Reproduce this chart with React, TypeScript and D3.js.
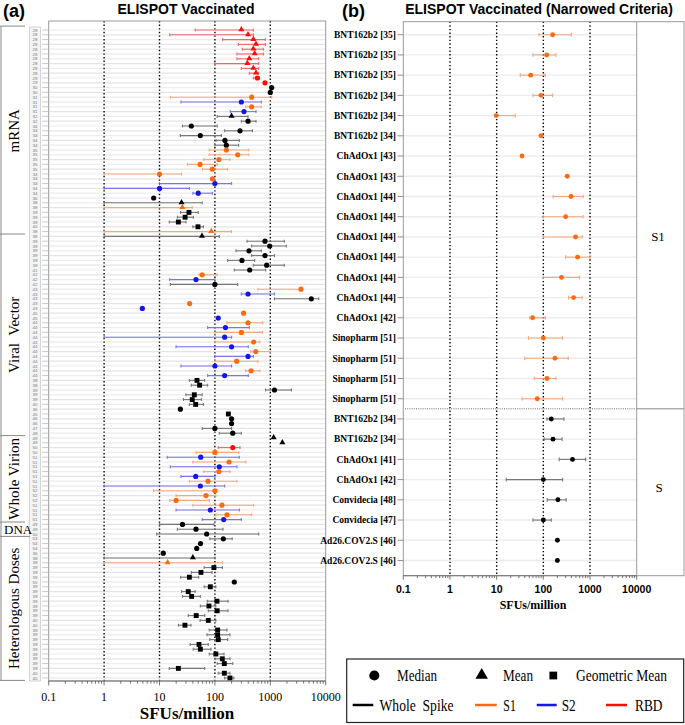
import * as d3 from 'd3';

// [ref, antigen, stat, value, low, high]
type Row = [string, string, string, number, number | null, number | null];

const mrnaRows: Row[] = [
  ['28', 'RBD', 'mean', 300, 44, 493], ['28', 'RBD', 'mean', 396, 15.3, 493], ['28', 'RBD', 'mean', 494, 138, 813],
  ['28', 'RBD', 'mean', 552, 265, 813], ['28', 'RBD', 'mean', 494, 312, 748], ['28', 'RBD', 'mean', 522, 250, 748],
  ['28', 'RBD', 'mean', 418, 250, 617], ['28', 'RBD', 'mean', 385, 99, 617], ['28', 'RBD', 'mean', 494, 300, 617],
  ['28', 'RBD', 'mean', 552, 418, 617], ['29', 'RBD', 'med', 583, 494, 640], ['29', 'RBD', 'med', 802, null, null],
  ['30', 'WS', 'med', 1060, null, null], ['30', 'WS', 'med', 1000, null, null], ['31', 'S1', 'med', 461, 15.7, 1060],
  ['31', 'S2', 'med', 300, 24.4, 688], ['31', 'S1', 'med', 461, 360, 688], ['31', 'S2', 'med', 335, 190, 552],
  ['32', 'WS', 'mean', 200, 110, 396], ['32', 'WS', 'med', 396, 300, 552], ['34', 'WS', 'med', 37.5, 26, 110],
  ['34', 'WS', 'med', 284, 150, 476], ['34', 'WS', 'med', 54.6, 23.8, 131], ['34', 'WS', 'med', 152, 105, 276],
  ['34', 'WS', 'med', 161, 100, 268], ['35', 'S1', 'med', 161, 79, 407], ['35', 'S1', 'med', 258, 79, 407],
  ['35', 'S1', 'med', 118, 63, 187], ['35', 'S1', 'med', 54, 32, 110], ['35', 'S1', 'med', 90, 60, 170],
  ['34', 'S1', 'med', 10, 1, 25], ['34', 'S1', 'med', 90, null, null], ['34', 'S2', 'med', 100, 10, 200],
  ['34', 'S2', 'med', 10, 1, 34.6], ['34', 'S2', 'med', 50, 40, 90], ['36', 'WS', 'med', 7.85, null, null],
  ['38', 'WS', 'mean', 25, 1, 59], ['38', 'S1', 'mean', 25.8, 1, 39], ['39', 'WS', 'gm', 34, 24, 50],
  ['39', 'WS', 'gm', 29, 21, 41], ['39', 'WS', 'gm', 21.9, 15, 30], ['40', 'WS', 'gm', 49.5, 40, 62],
  ['38', 'S1', 'mean', 86, 1, 199],
];

const viralRows: Row[] = [
  ['38', 'WS', 'mean', 58.5, 1, 120], ['39', 'WS', 'med', 802, 380, 1790], ['39', 'WS', 'med', 976, 461, 1950],
  ['39', 'WS', 'med', 413, 240, 688], ['39', 'WS', 'med', 802, 461, 1190], ['39', 'WS', 'med', 308, 170, 522],
  ['39', 'WS', 'med', 860, 494, 1790], ['41', 'WS', 'med', 425, 224, 820], ['42', 'S1', 'med', 59, 52, 110],
  ['42', 'S2', 'med', 45.6, 15.3, 100], ['42', 'WS', 'med', 100, 15.7, 258], ['43', 'S1', 'med', 3580, 600, 3580],
  ['43', 'S2', 'med', 396, 300, 1190], ['43', 'WS', 'med', 5500, 1190, 7480], ['43', 'S1', 'med', 35, null, null],
  ['43', 'S2', 'med', 4.9, null, null], ['45', 'S1', 'med', 330, null, null], ['45', 'S2', 'med', 115, null, null],
  ['44', 'S1', 'med', 396, 165, 728], ['44', 'S2', 'med', 155, 74, 418], ['44', 'S1', 'med', 300, 100, 720],
  ['44', 'S2', 'med', 150, 1, 200], ['44', 'S1', 'med', 501, 100, 647], ['44', 'S2', 'med', 200, 19.9, 400],
  ['44', 'S1', 'med', 545, 442, 1000], ['44', 'S2', 'med', 396, 100, 494], ['44', 'S1', 'med', 247, 100, 600],
  ['44', 'S2', 'med', 100, 24.4, 200], ['44', 'S1', 'med', 449, 358, 647], ['44', 'S2', 'med', 150, 74, 400],
  ['38', 'WS', 'gm', 47.5, 34.6, 65], ['38', 'WS', 'gm', 53, 37.5, 74], ['39', 'WS', 'med', 1190, 820, 2400],
  ['39', 'WS', 'gm', 42.5, 30, 59], ['39', 'WS', 'gm', 39, 27, 57], ['40', 'WS', 'gm', 45, 34.6, 62],
  ['36', 'WS', 'med', 23.8, null, null], ['45', 'WS', 'gm', 175, null, null], ['46', 'WS', 'med', 200, null, null],
  ['46', 'WS', 'med', 200, null, null], ['47', 'WS', 'med', 100, 59, 200], ['48', 'WS', 'med', 210, 120, 300],
];

const virionRows: Row[] = [
  ['49', 'WS', 'mean', 1150, null, null], ['49', 'WS', 'mean', 1650, null, null], ['50', 'RBD', 'med', 210, 115, 284],
  ['50', 'S1', 'med', 100, 46, 268], ['51', 'S2', 'med', 55.5, 13.8, 276], ['51', 'S1', 'med', 180, 40, 362],
  ['51', 'S2', 'med', 120, 15.7, 250], ['51', 'S1', 'med', 118, 63, 187], ['51', 'S2', 'med', 45, 24.4, 100],
  ['51', 'S1', 'med', 75, 34.6, 250], ['51', 'S2', 'med', 54.6, 1, 150], ['52', 'S1', 'med', 100, 7.85, 110],
  ['52', 'S1', 'med', 69, 19.9, 104], ['52', 'S1', 'med', 19.9, 15.3, 79], ['51', 'S1', 'med', 134, 40, 500],
  ['51', 'S2', 'med', 82.7, 19.9, 276], ['51', 'S1', 'med', 165, 104, 461], ['51', 'S2', 'med', 144, 59, 300],
];

const dnaRows: Row[] = [
  ['49', 'WS', 'med', 26, 10, 96], ['49', 'WS', 'med', 45.6, 21, 140], ['50', 'WS', 'med', 71, 8.9, 617],
];

const heteroRows: Row[] = [
  ['53', 'WS', 'med', 142, 81, 205], ['54', 'WS', 'med', 55, null, null], ['54', 'WS', 'med', 47, null, null],
  ['36', 'WS', 'med', 11.7, null, null], ['38', 'WS', 'mean', 40, 1, 100], ['38', 'S1', 'mean', 14, 1, 138],
  ['39', 'WS', 'gm', 96, 64, 137], ['39', 'WS', 'gm', 56, 37.5, 89], ['39', 'WS', 'gm', 34.6, 24, 51],
  ['55', 'WS', 'med', 224, null, null], ['39', 'WS', 'gm', 82.7, 64, 104], ['39', 'WS', 'gm', 33, 25, 44],
  ['39', 'WS', 'gm', 38, 26, 54.6], ['39', 'WS', 'gm', 109, 73, 173], ['39', 'WS', 'gm', 78, 54.6, 104],
  ['39', 'WS', 'gm', 110, 76, 173], ['39', 'WS', 'gm', 46, 33, 65.6], ['40', 'WS', 'gm', 76, 54, 104],
  ['40', 'WS', 'gm', 28.8, 22, 37], ['39', 'WS', 'gm', 112, 79, 165], ['39', 'WS', 'gm', 112, 72, 187],
  ['39', 'WS', 'gm', 115, 81, 170], ['39', 'WS', 'gm', 51.6, 35.8, 76], ['39', 'WS', 'gm', 54.6, 40.7, 85],
  ['39', 'WS', 'gm', 104, 79, 146], ['39', 'WS', 'gm', 136, 100, 187], ['39', 'WS', 'gm', 148, 110, 210],
  ['39', 'WS', 'gm', 21.9, 15, 65.6], ['40', 'WS', 'gm', 148, 115, 187], ['40', 'WS', 'gm', 187, 150, 220],
];

const groupNames = ['mRNA', 'Viral  Vector', 'Whole Virion', 'DNA', 'Heterologous Doses'];
const groups = [mrnaRows, viralRows, virionRows, dnaRows, heteroRows];

// right panel: [label, value, low, high]
type NRow = [string, number, number | null, number | null];
const narrowS1: NRow[] = [
  ['BNT162b2 [35]', 158, 80.5, 398], ['BNT162b2 [35]', 118, 60, 186], ['BNT162b2 [35]', 53.5, 32, 110],
  ['BNT162b2 [34]', 89, 60, 158], ['BNT162b2 [34]', 9.8, 9.8, 25], ['BNT162b2 [34]', 89, null, null],
  ['ChAdOx1 [43]', 35, null, null], ['ChAdOx1 [43]', 325, null, null], ['ChAdOx1 [44]', 390, 162, 716],
  ['ChAdOx1 [44]', 300, 100, 708], ['ChAdOx1 [44]', 490, 100, 677], ['ChAdOx1 [44]', 542, 300, 1000],
  ['ChAdOx1 [44]', 245, 100, 590], ['ChAdOx1 [44]', 445, 347, 677], ['ChAdOx1 [42]', 59, 51, 110],
  ['Sinopharm [51]', 100, 48, 259], ['Sinopharm [51]', 177, 40, 342], ['Sinopharm [51]', 119, 64, 186],
  ['Sinopharm [51]', 74, 35, 259],
];
const narrowS: NRow[] = [
  ['BNT162b2 [34]', 148, 119, 276], ['BNT162b2 [34]', 161, 104, 252], ['ChAdOx1 [41]', 422, 219, 805],
  ['ChAdOx1 [42]', 100, 16, 259], ['Convidecia [48]', 205, 121, 309], ['Convidecia [47]', 100, 60, 148],
  ['Ad26.COV2.S [46]', 200, null, null], ['Ad26.COV2.S [46]', 200, null, null],
];

const majorTicks = [0.1, 1, 10, 100, 1000, 10000];
const gridTicks = [1, 10, 100, 1000];

const markColor: Record<string, string> = { WS: '#000000', S1: '#ff6a10', S2: '#1414f0', RBD: '#ff0a0a' };
const barColor: Record<string, string> = { WS: '#6a6a6a', S1: '#f7a070', S2: '#6a6af2', RBD: '#f05a5a' };

const serif = '"Liberation Serif", "Times New Roman", serif';
const sans = '"Liberation Sans", Arial, sans-serif';

const symbolFor: Record<string, d3.SymbolType> = {
  med: d3.symbolCircle, mean: d3.symbolTriangle, gm: d3.symbolSquare,
};

function Mark({ x, y, stat, color, size }: { x: number; y: number; stat: string; color: string; size: number }) {
  const d = d3.symbol(symbolFor[stat], stat === 'mean' ? size * 0.75 : size)();
  return <path d={d || ''} transform={`translate(${x},${stat === 'mean' ? y - 0.4 : y})`} fill={color} />;
}

function ErrorBar({ x1, x2, y, color, cap }: { x1: number; x2: number; y: number; color: string; cap: number }) {
  return (
    <g stroke={color} strokeWidth={1.1} opacity={0.9}>
      <line x1={x1} x2={x2} y1={y} y2={y} />
      <line x1={x1} x2={x1} y1={y - cap} y2={y + cap} />
      <line x1={x2} x2={x2} y1={y - cap} y2={y + cap} />
    </g>
  );
}

function LogAxis({ x, y0, size, font, weight, family }: {
  x: d3.ScaleLogarithmic<number, number>; y0: number; size: number; font: number; weight: string; family: string;
}) {
  const ticks = x.ticks();
  return (
    <g>
      <line x1={x.range()[0]} x2={x.range()[1]} y1={y0} y2={y0} stroke="#777" strokeWidth={1} />
      {ticks.map((t, i) => {
        const major = Math.abs(Math.log10(t) - Math.round(Math.log10(t))) < 1e-6;
        return <line key={i} x1={x(t)} x2={x(t)} y1={y0} y2={y0 + (major ? size : size * 0.6)} stroke="#555" strokeWidth={0.8} />;
      })}
      {majorTicks.map(t => (
        <text key={t} x={x(t)} y={y0 + size + font + 3} textAnchor="middle" fontSize={font} fontWeight={weight} fontFamily={family}>
          {String(t)}
        </text>
      ))}
    </g>
  );
}

function LegendText({ x, y, len, children }: { x: number; y: number; len: number; children: string }) {
  return (
    <text x={x} y={y} fontSize={16} fontFamily={serif} textLength={len} lengthAdjust="spacingAndGlyphs"
      style={{ whiteSpace: 'pre' }}>{children}</text>
  );
}

export default function App() {
  // left panel
  const rows: Row[] = groups.flat();
  const xL = d3.scaleLog().domain([0.1, 10000]).range([48.7, 325.7]);
  const yL = d3.scalePoint<number>().domain(d3.range(rows.length)).range([30, 678]);
  const stepL = yL.step();
  const starts: number[] = [];
  let acc = 0;
  groups.forEach(g => { starts.push(acc); acc += g.length; });
  const edge = (i: number) => (i >= rows.length ? yL(rows.length - 1)! + stepL / 2 : yL(i)! - stepL / 2);

  // right panel
  const nrows = [...narrowS1, ...narrowS];
  const xR = d3.scaleLog().domain([0.1, 10000]).range([403.3, 636.7]);
  const yR = d3.scalePoint<number>().domain(d3.range(nrows.length)).range([34.7, 560.5]);
  const splitY = (yR(narrowS1.length - 1)! + yR(narrowS1.length)!) / 2;

  return (
    <div style={{ position: 'fixed', left: 0, top: 0 }}>
      <svg width={685} height={725} style={{ display: 'block', background: '#fff' }}>
        {/* ---------- (a) ---------- */}
        <text x={3} y={17} fontSize={18} fontWeight="bold" fontFamily={sans}>(a)</text>
        <text x={186} y={14} textAnchor="middle" fontSize={14} fontWeight="bold" fontFamily={sans}>ELISPOT Vaccinated</text>

        {rows.map((_, i) => (
          <line key={i} x1={xL.range()[0]} x2={xL.range()[1]} y1={yL(i)} y2={yL(i)} stroke={i % 2 ? '#e4e4e4' : '#ececec'} strokeWidth={1.2} />
        ))}
        {gridTicks.map(t => (
          <line key={t} x1={xL(t)} x2={xL(t)} y1={21} y2={681} stroke="#000" strokeWidth={1.4} strokeDasharray="1.4,2.2" />
        ))}
        <rect x={48.7} y={21} width={277} height={660} fill="none" stroke="#9a9a9a" strokeWidth={1} />

        {/* row labels */}
        <rect x={29.5} y={27} width={11} height={654} fill="#f4f4f4" stroke="#bbb" strokeWidth={0.6} />
        {rows.map((r, i) => (
          <g key={i}>
            <text x={35} y={yL(i)! + 1.6} textAnchor="middle" fontSize={4.4} fill="#777" fontFamily={sans}>{r[0]}</text>
            <line x1={42} x2={48.7} y1={yL(i)} y2={yL(i)} stroke="#bdbdbd" strokeWidth={0.8} />
          </g>
        ))}

        {/* group brackets */}
        <line x1={1} x2={1} y1={edge(0) - 1.5} y2={edge(rows.length)} stroke="#888" strokeWidth={1} />
        {starts.map((s, gi) => (
          <line key={gi} x1={0} x2={gi === 4 ? 30 : 25} y1={gi === 0 ? edge(s) - 1.5 : edge(s)} y2={gi === 0 ? edge(s) - 1.5 : edge(s)} stroke="#888" strokeWidth={1} />
        ))}
        <line x1={0} x2={25} y1={edge(rows.length)} y2={edge(rows.length)} stroke="#888" strokeWidth={1} />
        {groups.map((g, gi) => {
          const cy = (edge(starts[gi]) + edge(starts[gi] + g.length)) / 2;
          if (gi === 3) {
            return <text key={gi} x={4} y={cy + 4.5} fontSize={13} fontFamily={serif}>{groupNames[gi]}</text>;
          }
          return (
            <text key={gi} transform={`translate(19,${cy}) rotate(-90)`} textAnchor="middle" fontSize={15}
              fontFamily={serif} style={{ whiteSpace: 'pre' }}>{groupNames[gi]}</text>
          );
        })}

        {rows.map((r, i) => {
          const y = yL(i)!;
          return (
            <g key={i}>
              {r[4] !== null && r[5] !== null && (
                <ErrorBar x1={xL(r[4])} x2={xL(r[5])} y={y} color={barColor[r[1]]} cap={1.5} />
              )}
              <Mark x={xL(r[3])} y={y} stat={r[2]} color={markColor[r[1]]} size={r[2] === 'gm' ? 24 : 21} />
            </g>
          );
        })}

        <LogAxis x={xL} y0={681} size={4.5} font={12} weight="normal" family={serif} />
        <text x={187} y={719} textAnchor="middle" fontSize={17} fontWeight="bold" fontFamily={serif}>SFUs/million</text>

        {/* ---------- (b) ---------- */}
        <text x={342} y={17} fontSize={18} fontWeight="bold" fontFamily={sans}>(b)</text>
        <text x={539} y={14} textAnchor="middle" fontSize={14} fontWeight="bold" fontFamily={sans}>ELISPOT Vaccinated (Narrowed Criteria)</text>

        {nrows.map((_, i) => (
          <line key={i} x1={xR.range()[0]} x2={xR.range()[1]} y1={yR(i)} y2={yR(i)} stroke="#ececec" strokeWidth={1.4} />
        ))}
        {gridTicks.map(t => (
          <line key={t} x1={xR(t)} x2={xR(t)} y1={21.7} y2={575.7} stroke="#000" strokeWidth={1.4} strokeDasharray="1.4,2.2" />
        ))}
        <line x1={405} x2={636.7} y1={splitY} y2={splitY} stroke="#444" strokeWidth={0.8} strokeDasharray="1,1.2" />
        <line x1={636.7} x2={684} y1={splitY} y2={splitY} stroke="#888" strokeWidth={1} />
        <rect x={403.3} y={21.7} width={280.7} height={554} fill="none" stroke="#9a9a9a" strokeWidth={1} />
        <line x1={636.7} x2={636.7} y1={21.7} y2={575.7} stroke="#9a9a9a" strokeWidth={1} />
        <text x={658} y={241} textAnchor="middle" fontSize={13} fontFamily={serif}>S1</text>
        <text x={659} y={492} textAnchor="middle" fontSize={13} fontFamily={serif}>S</text>

        {nrows.map((r, i) => (
          <g key={i}>
            <text x={396} y={yR(i)! + 3.3} textAnchor="end" fontSize={9.5} fontWeight="bold" fontFamily={serif}>{r[0]}</text>
            <line x1={397.5} x2={403.3} y1={yR(i)} y2={yR(i)} stroke="#777" strokeWidth={0.8} />
          </g>
        ))}
        {nrows.map((r, i) => {
          const ag = i < narrowS1.length ? 'S1' : 'WS';
          const y = yR(i)!;
          return (
            <g key={i}>
              {r[2] !== null && r[3] !== null && (
                <ErrorBar x1={xR(r[2])} x2={xR(r[3])} y={y} color={barColor[ag]} cap={1.8} />
              )}
              <Mark x={xR(r[1])} y={y} stat="med" color={markColor[ag]} size={19} />
            </g>
          );
        })}

        <LogAxis x={xR} y0={575.7} size={4} font={10.5} weight="bold" family={sans} />
        <text x={533} y={609} textAnchor="middle" fontSize={12} fontWeight="bold" fontFamily={serif}>SFUs/million</text>

        {/* ---------- legend ---------- */}
        <rect x={346.7} y={659} width={337} height={63.5} fill="none" stroke="#222" strokeWidth={1.2} />
        <Mark x={374.3} y={675.5} stat="med" color="#000" size={80} />
        <LegendText x={397} y={681} len={40}>Median</LegendText>
        <Mark x={481.7} y={675.5} stat="mean" color="#000" size={90} />
        <LegendText x={503} y={681} len={30}>Mean</LegendText>
        <Mark x={553.3} y={675.5} stat="gm" color="#000" size={60} />
        <LegendText x={576} y={681} len={91}>Geometric Mean</LegendText>

        <line x1={352.7} x2={373.3} y1={705} y2={705} stroke="#000" strokeWidth={2.5} />
        <LegendText x={379.5} y={710.5} len={74}>Whole  Spike</LegendText>
        <line x1={475} x2={496.7} y1={705} y2={705} stroke={markColor.S1} strokeWidth={2.5} />
        <LegendText x={503.3} y={710.5} len={12.5}>S1</LegendText>
        <line x1={536.7} x2={556.7} y1={705} y2={705} stroke={markColor.S2} strokeWidth={2.5} />
        <LegendText x={561.7} y={710.5} len={14}>S2</LegendText>
        <line x1={606} x2={627} y1={705} y2={705} stroke={markColor.RBD} strokeWidth={2.5} />
        <LegendText x={635} y={710.5} len={27.5}>RBD</LegendText>
      </svg>
    </div>
  );
}
